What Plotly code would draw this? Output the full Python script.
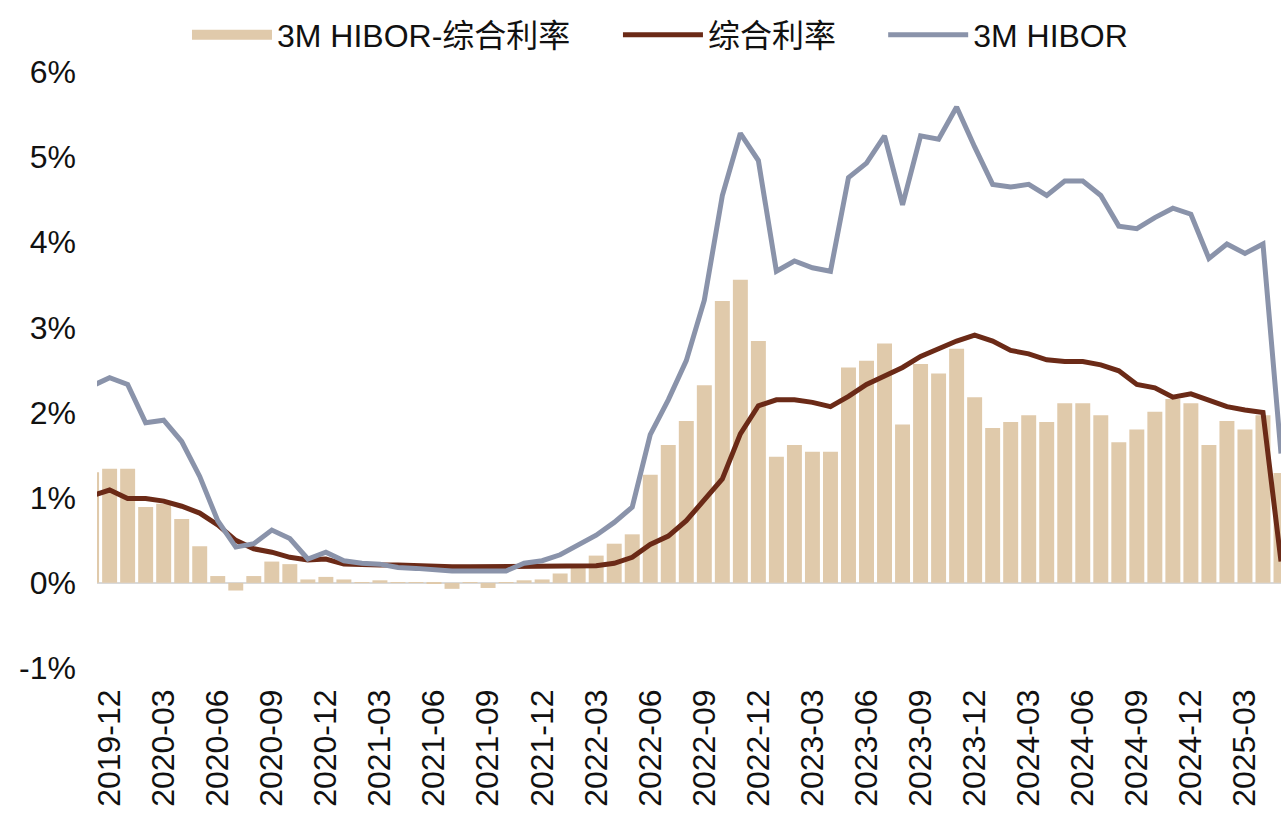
import plotly.graph_objects as go

months = [
    "2019-11", "2019-12",
    "2020-01", "2020-02", "2020-03", "2020-04", "2020-05", "2020-06",
    "2020-07", "2020-08", "2020-09", "2020-10", "2020-11", "2020-12",
    "2021-01", "2021-02", "2021-03", "2021-04", "2021-05", "2021-06",
    "2021-07", "2021-08", "2021-09", "2021-10", "2021-11", "2021-12",
    "2022-01", "2022-02", "2022-03", "2022-04", "2022-05", "2022-06",
    "2022-07", "2022-08", "2022-09", "2022-10", "2022-11", "2022-12",
    "2023-01", "2023-02", "2023-03", "2023-04", "2023-05", "2023-06",
    "2023-07", "2023-08", "2023-09", "2023-10", "2023-11", "2023-12",
    "2024-01", "2024-02", "2024-03", "2024-04", "2024-05", "2024-06",
    "2024-07", "2024-08", "2024-09", "2024-10", "2024-11", "2024-12",
    "2025-01", "2025-02", "2025-03", "2025-04", "2025-05",
]

# 3M HIBOR - composite rate (%)
spread = [
    1.30, 1.34,
    1.34, 0.89, 0.93, 0.75, 0.43, 0.08,
    -0.09, 0.08, 0.25, 0.22, 0.04, 0.07,
    0.04, 0.01, 0.03, 0.005, 0.005, -0.01,
    -0.07, 0.005, -0.06, 0.005, 0.03, 0.04,
    0.11, 0.21, 0.32, 0.46, 0.57, 1.27,
    1.62, 1.90, 2.32, 3.31, 3.56, 2.84,
    1.48, 1.62, 1.54, 1.54, 2.53, 2.61,
    2.81, 1.86, 2.57, 2.46, 2.75, 2.18,
    1.82, 1.89, 1.97, 1.89, 2.11, 2.11,
    1.97, 1.65, 1.80, 2.01, 2.16, 2.11,
    1.62, 1.90, 1.80, 1.97, 1.29,
]

# composite interest rate (%)
composite = [
    1.02, 1.09,
    0.99, 0.99, 0.96, 0.90, 0.82, 0.68,
    0.50, 0.40, 0.36, 0.30, 0.27, 0.28,
    0.22, 0.21, 0.21, 0.21, 0.20, 0.19,
    0.19, 0.19, 0.19, 0.19, 0.20, 0.20,
    0.20, 0.20, 0.20, 0.23, 0.30, 0.45,
    0.55, 0.73, 0.97, 1.22, 1.75, 2.08,
    2.15, 2.15, 2.12, 2.07, 2.19, 2.33,
    2.43, 2.53, 2.66, 2.75, 2.84, 2.91,
    2.84, 2.73, 2.69, 2.62, 2.60, 2.60,
    2.56, 2.49, 2.33, 2.29, 2.18, 2.22,
    2.14, 2.07, 2.03, 2.00, 0.25,
]

# 3M HIBOR (%)
hibor = [
    2.31, 2.41,
    2.33, 1.88, 1.91, 1.66, 1.25, 0.73,
    0.42, 0.46, 0.62, 0.52, 0.28, 0.36,
    0.26, 0.23, 0.22, 0.18, 0.17, 0.15,
    0.14, 0.14, 0.14, 0.14, 0.23, 0.26,
    0.33, 0.44, 0.56, 0.71, 0.89, 1.74,
    2.15, 2.61, 3.32, 4.55, 5.28, 4.96,
    3.66, 3.78, 3.70, 3.66, 4.76, 4.93,
    5.25, 4.44, 5.25, 5.21, 5.59, 5.12,
    4.68, 4.65, 4.68, 4.55, 4.72, 4.72,
    4.55, 4.19, 4.16, 4.29, 4.40, 4.33,
    3.81, 3.98, 3.87, 3.98, 1.52,
]

x_ticks = months[1::3]
y_ticks = [-1, 0, 1, 2, 3, 4, 5, 6]
y_ticktext = ["-1%", "0%", "1%", "2%", "3%", "4%", "5%", "6%"]

names = ["3M HIBOR-综合利率", "综合利率", "3M HIBOR"]
BAR_C = "#E0CAAB"
BROWN = "#6B2A17"
GRAY = "#8A93AA"
FONT = "Arial, 'Liberation Sans', 'Noto Sans CJK SC', sans-serif"

fig = go.Figure()
fig.add_trace(go.Bar(x=months, y=spread, name=names[0], marker_color=BAR_C,
                     marker_line_width=0, showlegend=False))
# legend proxy for the bar series (wide swatch)
fig.add_trace(go.Scatter(x=[None], y=[None], mode="lines", name=names[0],
                         line=dict(color=BAR_C, width=20), legend="legend"))
fig.add_trace(go.Scatter(x=months, y=composite, name=names[1], mode="lines",
                         line=dict(color=BROWN, width=5), legend="legend2"))
fig.add_trace(go.Scatter(x=months, y=hibor, name=names[2], mode="lines",
                         line=dict(color=GRAY, width=5), legend="legend3"))

leg = dict(orientation="h", xanchor="left", y=1.062, yanchor="middle",
           font=dict(size=32), itemwidth=80, bgcolor="rgba(0,0,0,0)")

fig.update_layout(
    width=1281, height=819,
    margin=dict(l=97, r=0, t=72, b=151, pad=0),
    paper_bgcolor="white", plot_bgcolor="white",
    font=dict(family=FONT, size=32, color="#111111"),
    bargap=0.17,
    legend=dict(leg, x=0.076),
    legend2=dict(leg, x=0.440),
    legend3=dict(leg, x=0.664),
    xaxis=dict(type="category", range=[0.3, 66], tickmode="array", tickvals=x_ticks,
               ticktext=x_ticks, tickangle=-90, showgrid=False, showline=False,
               zeroline=False, ticks="", ticklabelstandoff=14),
    yaxis=dict(range=[-1, 6], tickmode="array", tickvals=y_ticks, ticktext=y_ticktext,
               showgrid=False, showline=False, zeroline=True, zerolinecolor="#D9D9D9",
               zerolinewidth=2, ticks="", ticklabelstandoff=20),
)

fig.write_html("out.html", config={"displayModeBar": False},
               post_script="document.body.style.margin='0px';document.body.style.overflow='hidden';")
